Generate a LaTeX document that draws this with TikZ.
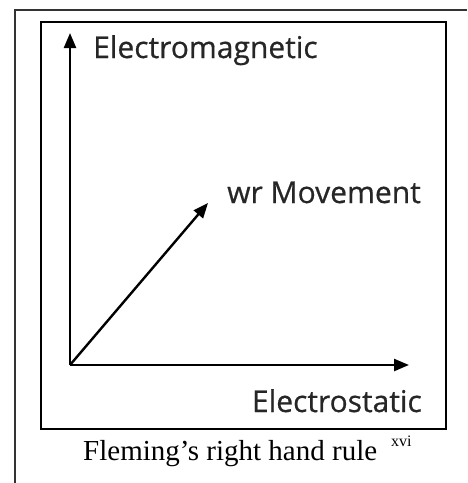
\documentclass[tikz,border=0pt]{standalone}
\usepackage{fontspec}
\setmainfont{Liberation Serif}
\newfontfamily\labfont[FakeBold=0.6]{Open Sans}
\usetikzlibrary{arrows.meta}
\tikzset{
  frameline/.style={draw=black!80, line width=1.5pt},
  boxline/.style={draw=black, line width=2.6pt},
  axis/.style={draw=black, line width=2.4pt, -{Triangle[length=15pt,width=12pt]}},
  lab/.style={inner sep=0pt, font=\labfont\fontsize{30}{34}\selectfont, text=black!85},
  captext/.style={inner sep=0pt, font=\fontsize{29}{33}\selectfont},
  suptext/.style={inner sep=0pt, font=\fontsize{16}{18}\selectfont}
}
\begin{document}
\begin{tikzpicture}[x=1pt,y=-1pt]
\useasboundingbox (0,0) rectangle (467,483);
% outer table cell border
\draw[frameline] (15,483) -- (15,10) -- (467,10);
% inner box
\draw[boxline] (41,22) rectangle (446,429);
% axes
\coordinate (O) at (70,365);
\coordinate (Ytip) at (70,33);
\coordinate (Xtip) at (409,365);
\coordinate (Dtip) at (208,203);
\draw[axis] (O) -- (Ytip);
\draw[axis] (O) -- (Xtip);
\draw[axis] (O) -- (Dtip);
% labels
\node[lab, anchor=base west] (em) at (93,58) {Electromagnetic};
\node[lab, anchor=base west] (mv) at (227,203) {wr Movement};
\node[lab, anchor=base east] (es) at (422,412) {Electrostatic};
\node[captext, anchor=base west] (caption) at (83,460) {Fleming’s right hand rule};
\node[suptext, anchor=base west] (xvi) at (391,446) {xvi};
\end{tikzpicture}
\end{document}
